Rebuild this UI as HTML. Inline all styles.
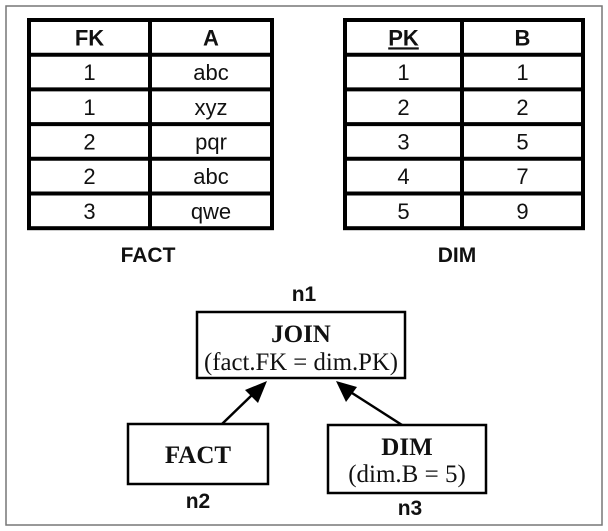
<!DOCTYPE html>
<html><head><meta charset="utf-8"><style>
body{margin:0;background:#fff;width:608px;height:531px;overflow:hidden}
svg{display:block}
.s{font-family:"Liberation Sans",Arial,sans-serif;fill:#111}
.r{font-family:"Liberation Serif","Times New Roman",serif;fill:#111}
</style></head><body>
<svg width="608" height="531" viewBox="0 0 608 531">
<rect x="6" y="6" width="596" height="519" fill="none" stroke="#777" stroke-width="1.5"/>
<g id="fact"></g>
<g id="dim"></g>
<text class="s" x="148" y="262" font-size="21" font-weight="bold" text-anchor="middle">FACT</text>
<text class="s" x="457" y="262" font-size="21" font-weight="bold" text-anchor="middle">DIM</text>

<text class="s" x="304" y="301" font-size="21" font-weight="bold" text-anchor="middle">n1</text>
<rect x="197" y="312" width="208" height="66" fill="#fff" stroke="#000" stroke-width="2.5"/>
<text class="r" x="301" y="342" font-size="25" font-weight="bold" text-anchor="middle">JOIN</text>
<text class="r" x="301" y="370" font-size="25" text-anchor="middle" textLength="194" lengthAdjust="spacingAndGlyphs">(fact.FK = dim.PK)</text>

<rect x="128" y="424" width="140" height="60" fill="#fff" stroke="#000" stroke-width="2.5"/>
<text class="r" x="198" y="463" font-size="25" font-weight="bold" text-anchor="middle">FACT</text>
<text class="s" x="198" y="508" font-size="21" font-weight="bold" text-anchor="middle">n2</text>

<rect x="328" y="425" width="158" height="68" fill="#fff" stroke="#000" stroke-width="2.5"/>
<text class="r" x="407" y="455" font-size="25" font-weight="bold" text-anchor="middle">DIM</text>
<text class="r" x="407" y="482" font-size="25" text-anchor="middle">(dim.B = 5)</text>
<text class="s" x="410" y="515" font-size="21" font-weight="bold" text-anchor="middle">n3</text>

<line x1="222" y1="424" x2="252" y2="395" stroke="#000" stroke-width="2.5"/>
<polygon points="267,381 245,390 258,403" fill="#000"/>
<line x1="402" y1="425" x2="352" y2="393" stroke="#000" stroke-width="2.5"/>
<polygon points="336,381 346,402 357,387" fill="#000"/>
</svg>
<script>
const factHeader=["FK","A"];
const factFK=["1","1","2","2","3"];
const factA=["abc","xyz","pqr","abc","qwe"];
const dimHeader=["PK","B"];
const dimPK=["1","2","3","4","5"];
const dimB=["1","2","5","7","9"];
const NS="http://www.w3.org/2000/svg";
function mk(t,a){const e=document.createElementNS(NS,t);for(const k in a)e.setAttribute(k,a[k]);return e;}
function table(g,x0,xm,x1,hdr,c1,c2,underline,prefix){
  const y0=20,rh=34.7,n=c1.length,y1=y0+rh*(n+1);
  const fr=mk('rect',{x:x0,y:y0,width:x1-x0,height:y1-y0,fill:'#fff',stroke:'#000','stroke-width':4});
  
  
  g.appendChild(fr);
  const v=mk('line',{x1:xm,y1:y0,x2:xm,y2:y1,stroke:'#000','stroke-width':4});
  
  
  g.appendChild(v);
  for(let i=1;i<=n;i++){
    const l=mk('line',{x1:x0,y1:y0+rh*i,x2:x1,y2:y0+rh*i,stroke:'#000','stroke-width':4});
    
    
    g.appendChild(l);
  }
  const cx1=(x0+xm)/2,cx2=(xm+x1)/2;
  const rows=[hdr].concat(c1.map((v,i)=>[v,c2[i]]));
  rows.forEach((r,i)=>{
    [cx1,cx2].forEach((cx,j)=>{
      const t=mk('text',{x:cx,y:y0+rh*i+rh/2+8,'font-size':22,'text-anchor':'middle',class:'s'});
      if(i===0){t.setAttribute('font-weight','bold');if(underline&&j===0)t.setAttribute('text-decoration','underline');}
      t.textContent=r[j];
      
      
      g.appendChild(t);
    });
  });
}
table(document.getElementById('fact'),29,150,272,factHeader,factFK,factA,false,'fact');
table(document.getElementById('dim'),345,462,583,dimHeader,dimPK,dimB,true,'dim');
</script>
</body></html>
